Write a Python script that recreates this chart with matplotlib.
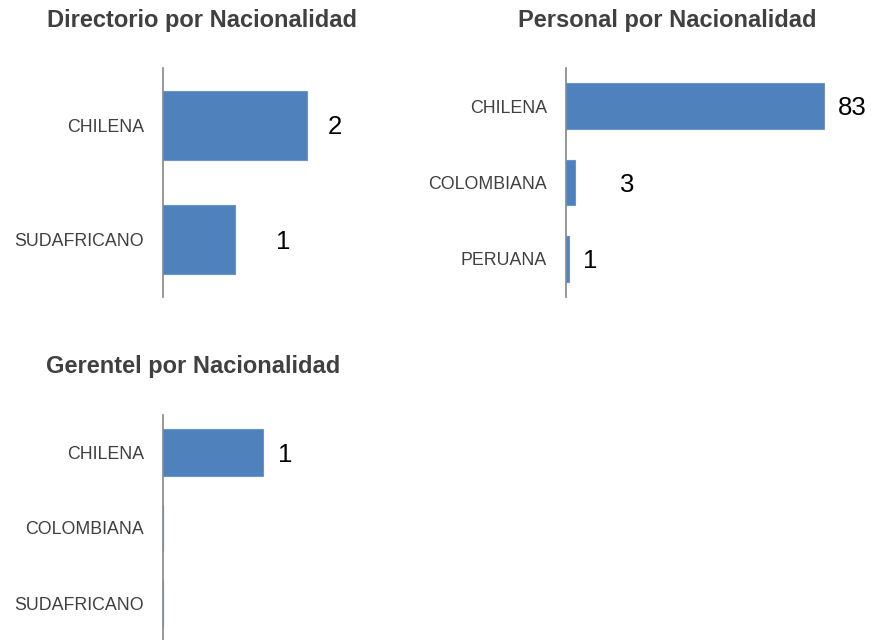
import matplotlib
matplotlib.use("Agg")
import matplotlib.pyplot as plt

plt.rcParams['font.family'] = ['Liberation Sans', 'DejaVu Sans']

# ---- data ----
dir_categories = ["CHILENA", "SUDAFRICANO"]
dir_values = [2, 1]

per_categories = ["CHILENA", "COLOMBIANA", "PERUANA"]
per_values = [83, 3, 1]

ger_categories = ["CHILENA", "COLOMBIANA", "SUDAFRICANO"]
ger_values = [1, 0, 0]

titles = ["Directorio por Nacionalidad", "Personal por Nacionalidad", "Gerentel por Nacionalidad"]

# ---- style ----
W, H = 872, 640
BAR = "#4F81BD"
TXT = "#404040"
AX = "#868686"

fig = plt.figure(figsize=(W / 100, H / 100), dpi=100)


def px_ax(x0, y_top, y_bot, width):
    return fig.add_axes([x0 / W, 1 - y_bot / H, width / W, (y_bot - y_top) / H])


def draw(ax, cats, vals, xmax, offsets, bar_h):
    n = len(cats)
    ys = list(range(n))
    ax.barh(ys, vals, height=bar_h, color=BAR, edgecolor="#6D95C9", linewidth=0.8)
    ax.set_ylim(n - 0.5, -0.5)
    ax.set_xlim(0, xmax)
    ax.set_yticks(ys)
    ax.set_yticklabels(cats, fontsize=12.8, color=TXT)
    ax.tick_params(axis="y", length=0, pad=13.5)
    ax.set_xticks([])
    for s in ["top", "right", "bottom"]:
        ax.spines[s].set_visible(False)
    ax.spines["left"].set_color(AX)
    ax.spines["left"].set_linewidth(1.2)
    for y, v, off in zip(ys, vals, offsets):
        if v == 0:
            continue
        ax.annotate(str(v), xy=(v, y), xytext=(off, -2), textcoords="offset pixels",
                    ha="center", va="center", fontsize=18.5, color="black")


ax1 = px_ax(162.7, 68, 297, 200)
draw(ax1, dir_categories, dir_values, 200 / 72.0, [28, 48], 0.6)

ax2 = px_ax(565.7, 68, 297, 290)
draw(ax2, per_categories, per_values, 290 / 3.112, [28, 52, 21], 0.6)

ax3 = px_ax(162.7, 415, 641, 200)
draw(ax3, ger_categories, ger_values, 200 / 100.3, [22, 0, 0], 0.62)

title_kw = dict(ha="center", va="center", fontsize=17, color=TXT, fontweight="bold")
fig.text(202 / W, 1 - 21 / H, titles[0], **title_kw)
fig.text(667 / W, 1 - 21 / H, titles[1], **title_kw)
fig.text(193 / W, 1 - 367 / H, titles[2], **title_kw)

fig.savefig("out.png", dpi=100)
